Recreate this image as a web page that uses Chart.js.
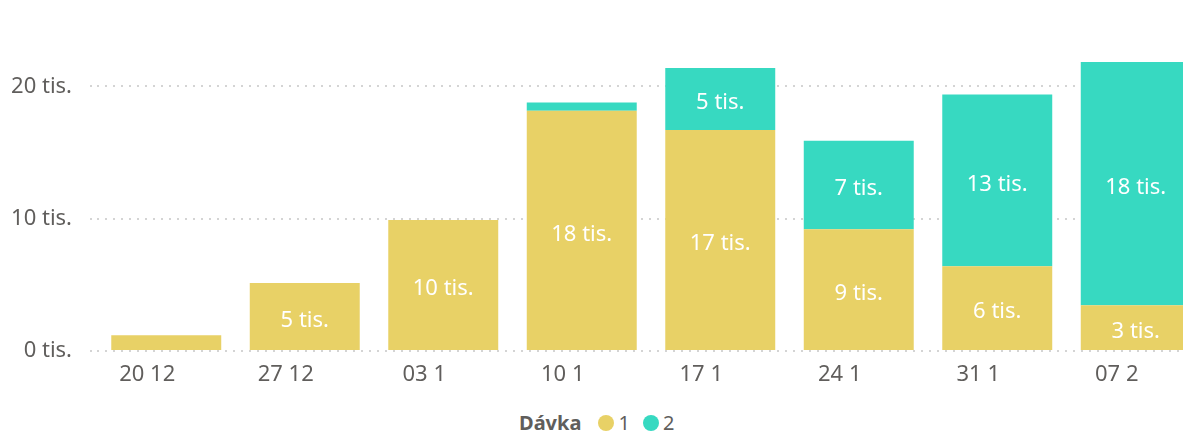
<!DOCTYPE html>
<html>
<head>
<meta charset="utf-8">
<script src="https://cdn.jsdelivr.net/npm/chart.js@4.4.1/dist/chart.umd.min.js"></script>
<style>
    html, body { margin: 0; padding: 0; background: #fff; overflow: hidden; }
    #wrap { position: relative; width: 1210px; height: 400px; }
    #legend {
        position: absolute; top: 410px; left: 519px;
        font-family: 'Segoe UI', 'Noto Sans', 'Open Sans', sans-serif;
        font-size: 20px; line-height: 26px; color: #605e5c; display: flex; align-items: center; white-space: nowrap;
    }
    #legend b { color: #605e5c; margin-right: 17px; }
    #legend .dot { width: 16px; height: 16px; border-radius: 50%; display: inline-block; margin-right: 4px; }
    #legend .item { display: flex; align-items: center; margin-right: 13px; }
</style>
</head>
<body>
<div id="wrap"><canvas id="chart"></canvas></div>
<div id="legend">
    <b>Dávka</b>
    <span class="item"><span class="dot" style="background:#E8D166"></span>1</span>
    <span class="item"><span class="dot" style="background:#37D9C1"></span>2</span>
</div>
<script>
// Categories (week starts) and series values
const weeks = ['20 12', '27 12', '03 1', '10 1', '17 1', '24 1', '31 1', '07 2'];
const batch1 = [1200, 5150, 9900, 18170, 16700, 9200, 6400, 3450];
const batch2 = [0, 0, 0, 620, 4700, 6700, 13000, 18400];
const yTicks = [0, 10000, 20000];

const yellow = '#E8D166';
const teal = '#37D9C1';
const fontFamily = "'Segoe UI', 'Noto Sans', 'Open Sans', sans-serif";

function fmtTis(v) {
    return Math.round(v / 1000) + ' tis.';
}

// Draw white value labels centered in each segment
const segmentLabels = {
    id: 'segmentLabels',
    afterDatasetsDraw(chart) {
        const ctx = chart.ctx;
        ctx.save();
        ctx.fillStyle = '#ffffff';
        ctx.font = '22px ' + fontFamily;
        ctx.textAlign = 'center';
        ctx.textBaseline = 'middle';
        chart.data.datasets.forEach((ds, i) => {
            const meta = chart.getDatasetMeta(i);
            meta.data.forEach((bar, j) => {
                const v = ds.data[j];
                const h = Math.abs(bar.base - bar.y);
                if (!v || h < 40) return;
                ctx.fillText(fmtTis(v), bar.x, (bar.y + bar.base) / 2 + 4);
            });
        });
        ctx.restore();
    }
};

new Chart(document.getElementById('chart'), {
    type: 'bar',
    data: {
        labels: weeks,
        datasets: [
            { label: '1', data: batch1, backgroundColor: yellow, barPercentage: 0.794, categoryPercentage: 1 },
            { label: '2', data: batch2, backgroundColor: teal, barPercentage: 0.794, categoryPercentage: 1 }
        ]
    },
    options: {
        responsive: true,
        maintainAspectRatio: false,
        animation: false,
        layout: { padding: { top: 60, right: 5, left: 0, bottom: 0 } },
        plugins: {
            legend: { display: false },
            tooltip: { enabled: false }
        },
        scales: {
            x: {
                stacked: true,
                grid: { display: false },
                border: { display: false },
                ticks: { color: '#605e5c', font: { family: fontFamily, size: 22 }, padding: 3, labelOffset: -19 },
                afterFit: scale => { scale.height = 49; }
            },
            y: {
                stacked: true,
                min: 0,
                max: 22000,
                afterBuildTicks: scale => { scale.ticks = yTicks.map(v => ({ value: v })); },
                afterFit: scale => { scale.width = 97; },
                border: { display: false, dash: [2, 6] },
                grid: { color: '#d4d4d4', lineWidth: 2, tickLength: 7, drawTicks: true, tickBorderDash: [2, 6], tickColor: '#d4d4d4' },
                ticks: {
                    color: '#605e5c',
                    padding: 18,
                    font: { family: fontFamily, size: 22 },
                    callback: v => fmtTis(v)
                }
            }
        }
    },
    plugins: [segmentLabels]
});
</script>
</body>
</html>
